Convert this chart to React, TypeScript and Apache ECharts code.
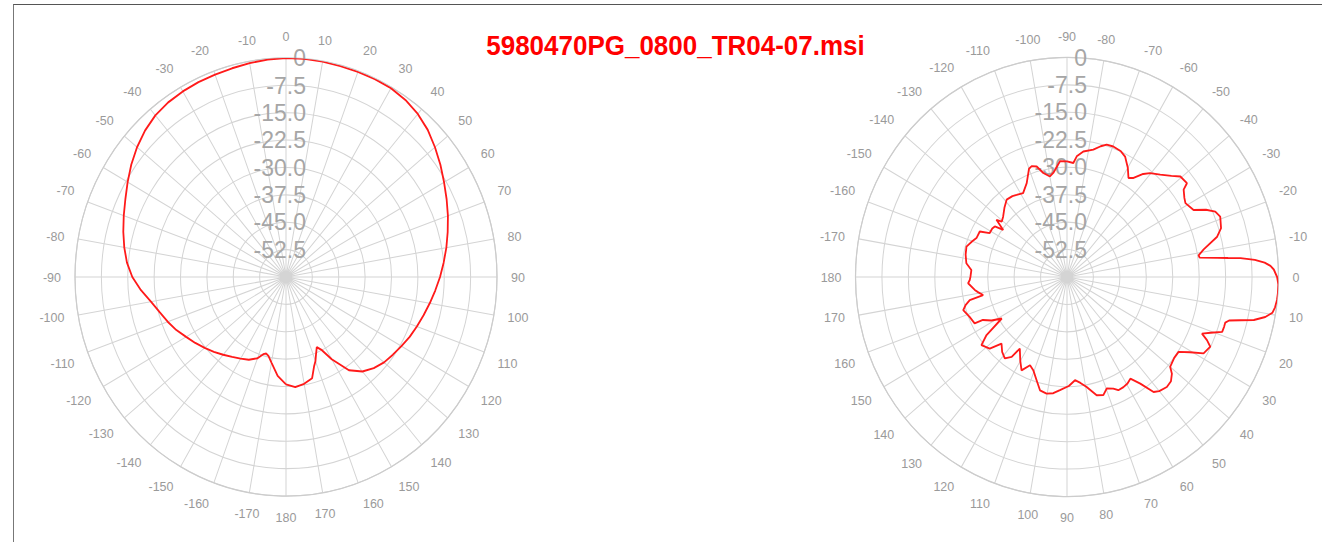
import React, { useEffect, useRef } from "react";
import * as echarts from "echarts";

const TITLE = "5980470PG_0800_TR04-07.msi";

// Left pattern: angle (deg, 0 = top, clockwise) and level (dB)
const leftAngles = [
  -180, -175, -170, -167, -165, -163, -160, -155, -150, -145, -140, -135, -130, -125, -120, -115,
  -110, -105, -100, -95, -90, -85, -80, -75, -70, -65, -60, -55, -50, -45, -40, -35, -30, -25,
  -20, -15, -10, -5, 0, 5, 10, 15, 20, 25, 30, 35, 40, 45, 50, 55, 60, 65, 70, 75, 80, 85, 90,
  95, 100, 105, 110, 115, 120, 125, 130, 135, 140, 145, 150, 153, 155.5, 158, 160, 162, 165, 170,
  175, 180,
];
const leftValues = [
  -30.6, -32.8, -36.2, -37.8, -38.3, -37.9, -36.3, -35.0, -34.2, -33.3, -32.2, -31.0, -29.8, -28.5,
  -27.2, -25.6, -24.2, -22.8, -21.0, -18.6, -16.3, -14.6, -13.3, -12.1, -10.9, -9.6, -8.0, -6.3,
  -4.7, -3.3, -2.2, -1.6, -1.3, -1.1, -1.0, -0.8, -0.5, -0.2, 0, 0, -0.1, -0.2, -0.2, -0.2, -0.3,
  -0.8, -1.7, -3.0, -4.7, -6.4, -8.1, -9.6, -11.0, -12.4, -13.7, -15.0, -16.2, -17.4, -18.5, -19.5,
  -20.4, -21.2, -22.1, -22.9, -23.6, -24.7, -26.2, -28.8, -34.0, -37.5, -38.9, -37.2, -35.5, -34.2,
  -31.3, -30.3, -29.7, -30.6,
];

// Right pattern: angle (deg, 0 = right, clockwise) and level (dB)
const rightAngles = [
  -180, -176, -172.5, -168, -163.8, -160, -157.5, -153.3, -151.3, -148, -146, -144.6, -142, -140.7,
  -137.7, -133, -129, -125, -122.5, -118.5, -114, -110, -108.3, -105.9, -103.3, -100, -97.8, -93.6,
  -90, -86.7, -85.2, -82.3, -77.9, -75, -72.7, -69.8, -66, -63.4, -60, -57.2, -55.1, -52.5, -50.3,
  -46.6, -43, -40.5, -37, -35.8, -33, -31, -27, -25, -23, -20.8, -17, -14.5, -11, -9, -8, -7, -6.5,
  -6, -5, -4, -3, -2, 0, 2, 4, 6, 8, 9.5, 11, 12.5, 13.5, 14.5, 15.5, 17, 18.8, 20.5, 22, 23.5,
  25.1, 28.3, 30.5, 32.9, 36, 40, 41.6, 44, 46.7, 50, 52, 54.5, 57.1, 59.5, 62, 64.8, 66.7, 69.7,
  72.3, 75.4, 79.5, 82.5, 85.4, 89, 93.7, 97, 100.3, 103.9, 107, 110.6, 113.5, 116.8, 120, 124.4,
  125.7, 128.4, 132, 135.6, 138.2, 142.5, 145.2, 148.5, 151, 153.8, 154.2, 158.5, 162.9, 165,
  167.1, 168.3, 170.5, 172.3, 176.5, 178.3, 180,
];
const rightValues = [
  -32.6, -32.8, -31.2, -30.6, -30.3, -31.4, -32.2, -32.3, -35.0, -35.0, -35.3, -37.8, -34.6, -36.1,
  -35.5, -34.0, -32.8, -33.0, -33.4, -33.9, -31.9, -28.5, -28.1, -28.6, -30.8, -32.1, -31.3, -28.3,
  -28.4, -28.8, -26.9, -25.4, -24.4, -23.0, -22.1, -22.0, -22.4, -23.2, -25.5, -27.8, -27.0, -24.5,
  -23.1, -21.5, -19.5, -17.7, -17.4, -19.2, -20.3, -20.8, -19.7, -16.5, -14.3, -13.5, -14.3, -16.0,
  -20.5, -22.2, -22.0, -17.0, -14.0, -10.5, -6.5, -3.8, -2.2, -1.3, -0.4, 0, 0, -0.1, -0.4, -0.9,
  -2.7, -5.7, -9.4, -12.5, -13.4, -13.4, -13.5, -16.5, -18.7, -16.7, -15.1, -16.0, -19.5, -22.3,
  -22.4, -21.8, -20.2, -19.0, -18.7, -19.3, -20.1, -24.2, -26.9, -26.2, -25.9, -25.8, -26.8, -27.5,
  -26.1, -26.6, -29.4, -30.8, -31.7, -30.2, -29.0, -28.0, -27.6, -28.1, -30.5, -32.8, -33.7, -31.4,
  -33.5, -36.3, -33.1, -31.6, -32.5, -34.0, -30.6, -29.4, -32.2, -38.3, -35.5, -33.4, -30.9, -30.3,
  -29.2, -30.2, -31.7, -35.7, -34.5, -33.6, -31.9, -32.4, -32.6,
];

const FONT = '"Liberation Sans", Arial, Helvetica, sans-serif';
const GRID = "#d4d4d4";
// the reference picture is slightly taller than wide
const STRETCH_Y = 1.038;
const CY = 277;

function radiusLabel(v: number) {
  if (v === -60) return "";
  if (v === 0) return "0";
  return v.toFixed(1);
}

function makeAxes(polarIndex: number, min: number, max: number, fmt: (v: number) => string) {
  const angleAxis = {
    polarIndex,
    type: "value",
    min,
    max,
    interval: 10,
    startAngle: 90,
    clockwise: true,
    axisLine: { show: true, lineStyle: { color: "#cccccc", width: 1.2 } },
    axisTick: { show: false },
    axisLabel: { color: "#9a9a9a", fontSize: 12.5, fontFamily: FONT, margin: 14, formatter: fmt },
    splitLine: { show: true, lineStyle: { color: GRID, width: 1 } },
  };
  const radiusAxis = {
    polarIndex,
    type: "value",
    min: -60,
    max: 0,
    interval: 7.5,
    axisLine: { show: false },
    axisTick: { show: false },
    axisLabel: {
      color: "#a6a6a6",
      fontSize: 23,
      fontFamily: FONT,
      margin: -20,
      padding: [0, 0, 6, 0],
      formatter: radiusLabel,
    },
    splitLine: { show: true, lineStyle: { color: GRID, width: 1 } },
  };
  return { angleAxis, radiusAxis };
}

export default function App() {
  const ref = useRef<HTMLDivElement>(null);

  useEffect(() => {
    if (!ref.current) return;
    const chart = echarts.init(ref.current, undefined, { renderer: "svg" });

    const wrap = (v: number) => String(v > 180 ? v - 360 : v);
    // left: 0 at top; right: -90 at top (0 at right)
    const left = makeAxes(0, 0, 360, wrap);
    const right = makeAxes(1, -90, 270, wrap);

    const leftData = leftAngles.map((a, i) => [leftValues[i], a < 0 ? a + 360 : a]);
    const rightData = rightAngles.map((a, i) => [rightValues[i], a < -90 ? a + 360 : a]);

    chart.setOption({
      animation: false,
      backgroundColor: "transparent",
      polar: [
        { center: [286, CY], radius: 211 },
        { center: [1067, CY], radius: 211.5 },
      ],
      angleAxis: [left.angleAxis, right.angleAxis],
      radiusAxis: [left.radiusAxis, right.radiusAxis],
      series: [
        {
          type: "line",
          coordinateSystem: "polar",
          polarIndex: 0,
          data: leftData,
          symbol: "none",
          lineStyle: { color: "#ff1a1a", width: 1.8 },
          z: 3,
        },
        {
          type: "line",
          coordinateSystem: "polar",
          polarIndex: 1,
          data: rightData,
          symbol: "none",
          lineStyle: { color: "#ff1a1a", width: 1.8 },
          z: 3,
        },
      ],
      graphic: [
        {
          type: "text",
          x: 675.5,
          y: CY - (CY - 46) / STRETCH_Y,
          style: {
            text: TITLE,
            fill: "#ff0000",
            fontSize: 26,
            fontWeight: "bold",
            fontFamily: FONT,
            align: "center",
            verticalAlign: "middle",
          },
        },
      ],
    });

    return () => chart.dispose();
  }, []);

  return (
    <div
      style={{
        position: "fixed",
        left: 0,
        top: 0,
        width: 1322,
        height: 542,
        background: "#fff",
        overflow: "hidden",
      }}
    >
      <div
        style={{
          position: "absolute",
          left: 13,
          top: 4,
          width: 1400,
          height: 600,
          borderLeft: "1.5px solid #777",
          borderTop: "1px solid #555",
        }}
      />
      <div
        ref={ref}
        style={{
          position: "absolute",
          left: 0,
          top: 0,
          width: 1322,
          height: 542,
          transform: `scaleY(${STRETCH_Y})`,
          transformOrigin: `0 ${CY}px`,
        }}
      />
    </div>
  );
}
